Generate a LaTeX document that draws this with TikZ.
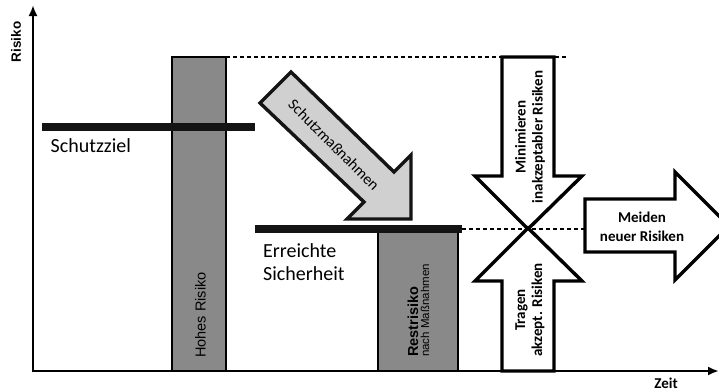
\documentclass[tikz,border=0pt]{standalone}
\usepackage{fontspec}
\setmainfont{Carlito}
\newfontfamily\arialf{Liberation Sans}
\usetikzlibrary{arrows.meta}
\definecolor{bargray}{HTML}{898989}
\definecolor{arrowgray}{HTML}{D0D0D0}
\tikzset{
  bar/.style={fill=bargray, draw=black, line width=1.6pt},
  goalline/.style={line width=8pt, draw=black!92},
  dashline/.style={line width=1.8pt, dash pattern=on 4pt off 3pt},
  bigarrow/.style={draw=black, fill=white, line width=3.4pt, miter limit=10},
  grayarrow/.style={draw=black!92, fill=arrowgray, line width=3.4pt, miter limit=10},
  axis/.style={line width=2.8pt, {Latex[length=11pt,width=9pt]}-{Latex[length=11pt,width=9pt]}},
  lbl/.style={inner sep=0pt, font=\fontsize{20}{24}\selectfont},
  blbl/.style={inner sep=0pt, align=center, font=\fontsize{15}{17}\selectfont\bfseries},
}
\begin{document}
\begin{tikzpicture}[x=1pt,y=-1pt]
\path[use as bounding box] (0,0) rectangle (719,391);
\clip (0,0) rectangle (719,391);
% bars
\draw[bar] (172,57) rectangle (226,371);
\draw[bar] (378,229) rectangle (458,371);
% dashed lines
\draw[dashline] (226,57) -- (567,57);
\draw[dashline] (462,229) -- (585,229);
% goal lines
\draw[goalline] (42,127) -- (255,127);
\draw[goalline] (255,229) -- (462,229);
% Schutzmassnahmen arrow
\draw[grayarrow] (291,72) -- (394,172) -- (411,155) -- (411,219) -- (347,219) -- (364,202) -- (260,103) -- cycle;
% vertical arrows
\draw[bigarrow] (502,57) -- (554,57) -- (554,176) -- (582,176) -- (528,229) -- (475,176) -- (502,176) -- cycle;
\draw[bigarrow] (502,371) -- (502,281) -- (475,281) -- (528,228) -- (582,281) -- (554,281) -- (554,371) -- cycle;
% right arrow
\draw[bigarrow] (585,199) -- (675,199) -- (675,172) -- (729,226) -- (675,280) -- (675,252) -- (585,252) -- cycle;
% axes
\draw[axis] (33,5) -- (33,371) -- (719,371);
% texts
\node[inner sep=0pt, rotate=90, font=\arialf\bfseries\fontsize{13.5}{15}\selectfont] (risiko) at (16,42) {Risiko};
\node[blbl] (zeit) at (666,383) {Zeit};
\node[lbl, anchor=base west] (schutzziel) at (50.5,152.5) {Schutzziel};
\node[lbl, anchor=base west] (erreichte) at (263,257) {Erreichte};
\node[lbl, anchor=base west] (sicherheit) at (263,280) {Sicherheit};
\node[inner sep=0pt, rotate=-45, font=\fontsize{15.5}{18}\selectfont] (schutzm) at (334,145) {Schutzmaßnahmen};
\node[inner sep=0pt, rotate=90, font=\arialf\fontsize{14.5}{17}\selectfont] (hohes) at (200.5,315) {Hohes Risiko};
\node[inner sep=0pt, rotate=90, anchor=base west, font=\arialf\bfseries\fontsize{14.5}{16}\selectfont] (rest) at (418,357) {Restrisiko};
\node[inner sep=0pt, rotate=90, anchor=base west, font=\arialf\fontsize{11.5}{13}\selectfont] (nach) at (429,357) {nach Maßnahmen};
\node[blbl, rotate=90] (minim) at (530,137) {Minimieren\\inakzeptabler Risiken};
\node[blbl, rotate=90] (tragen) at (530,310) {Tragen\\akzept. Risiken};
\node[blbl, font=\fontsize{15}{18.5}\selectfont\bfseries] (meiden) at (642,227) {Meiden\\neuer Risiken};
\end{tikzpicture}
\end{document}
